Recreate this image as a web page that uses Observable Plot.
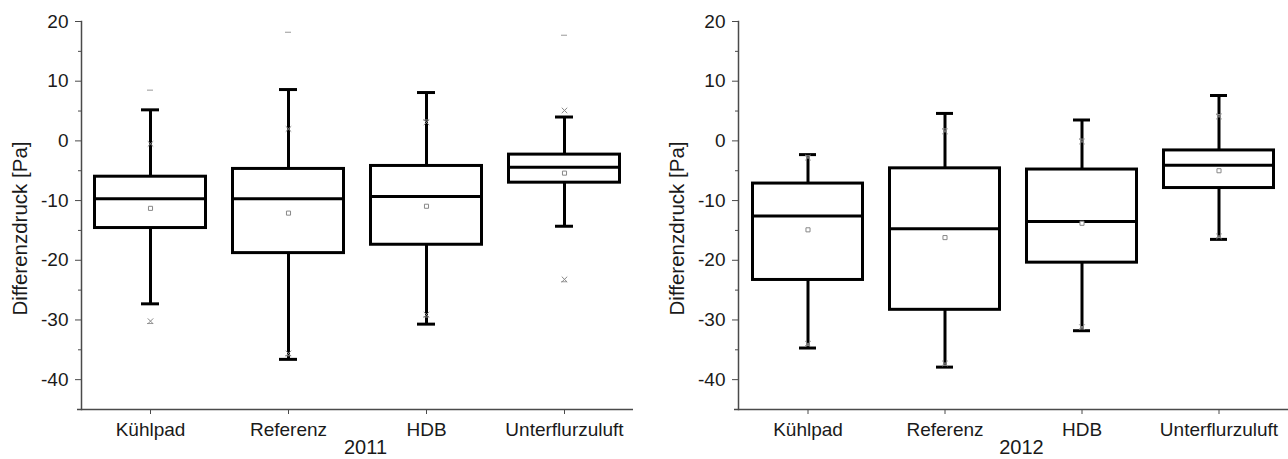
<!DOCTYPE html>
<html><head><meta charset="utf-8">
<script src="https://cdn.jsdelivr.net/npm/d3@7"></script>
<script src="https://cdn.jsdelivr.net/npm/@observablehq/plot@0.6"></script>
<style>
body{margin:0;background:#fff;}
#wrap{display:flex;width:1288px;height:459px;overflow:hidden;}
#wrap svg{display:block;}
</style></head><body><div id="wrap"></div>
<script>
const categories = ["Kühlpad", "Referenz", "HDB", "Unterflurzuluft"];
const yearLabels = ["2011", "2012"];
const majorTicks = [-40, -30, -20, -10, 0, 10, 20];
const minorTicks = [-35, -25, -15, -5, 5, 15];

// 2011
const q1_2011   = [-14.6, -18.8, -17.4, -7.0];
const med_2011  = [-9.7, -9.7, -9.3, -4.4];
const q3_2011   = [-6.0, -4.7, -4.2, -2.3];
const whLo_2011 = [-27.3, -36.6, -30.7, -14.3];
const whHi_2011 = [5.2, 8.6, 8.1, 4.0];
const mean_2011 = [-11.3, -12.1, -10.95, -5.4];
const p1_2011   = [-30.2, -35.6, -29.1, -23.2];
const p99_2011  = [-0.5, 2.0, 3.1, 5.1];
const min_2011  = [-30.6, -36.0, -29.5, -23.6];
const max_2011  = [8.5, 18.2, 3.5, 17.7];

// 2012
const q1_2012   = [-23.3, -28.3, -20.4, -7.9];
const med_2012  = [-12.6, -14.7, -13.5, -4.1];
const q3_2012   = [-7.15, -4.6, -4.8, -1.6];
const whLo_2012 = [-34.7, -37.9, -31.8, -16.5];
const whHi_2012 = [-2.3, 4.6, 3.5, 7.6];
const mean_2012 = [-14.9, -16.2, -13.8, -5.0];
const p1_2012   = [-34.0, -37.3, -31.2, -16.0];
const p99_2012  = [-2.8, 1.6, -0.1, 4.1];
const min_2012  = [-34.3, -37.6, -31.5, -16.2];
const max_2012  = [-2.5, 2.0, 0.3, 4.4];

function rowsFor(q1, med, q3, whLo, whHi, mean, p1, p99, mn, mx) {
  return categories.map((c, i) => ({cat: c, q1: q1[i], med: med[i], q3: q3[i], whLo: whLo[i], whHi: whHi[i],
    mean: mean[i], p1: p1[i], p99: p99[i], min: mn[i], max: mx[i]}));
}

const datasets = [
  rowsFor(q1_2011, med_2011, q3_2011, whLo_2011, whHi_2011, mean_2011, p1_2011, p99_2011, min_2011, max_2011),
  rowsFor(q1_2012, med_2012, q3_2012, whLo_2012, whHi_2012, mean_2012, p1_2012, p99_2012, min_2012, max_2012)
];

const FONT = "'Liberation Sans', Arial, sans-serif";
const AX = "#4a4a4a";

function chart(rows, year, marginLeft, marginRight) {
  return Plot.plot({
    width: 644, height: 459,
    marginLeft, marginRight, marginTop: 21, marginBottom: 50,
    style: {fontFamily: FONT, fontSize: "19px", color: "#1a1a1a", background: "white", overflow: "visible"},
    x: {type: "band", domain: categories, padding: 0},
    y: {domain: [-45, 20]},
    marks: [
      Plot.frame({anchor: "left", stroke: AX, strokeWidth: 1.5}),
      Plot.ruleY([-45], {stroke: AX, strokeWidth: 1.5, insetLeft: -4}),
      Plot.axisY({ticks: majorTicks, tickSize: 6, tickPadding: 7, fontSize: 19, label: null, stroke: AX, tickFormat: d => String(d)}),
      Plot.axisY({ticks: minorTicks, tickSize: 3, tickFormat: () => "", label: null, stroke: AX}),
      Plot.axisX({tickSize: 5, tickPadding: 8, fontSize: 19, label: null, stroke: AX}),
      Plot.text(["Differenzdruck [Pa]"], {frameAnchor: "left", textAnchor: "middle", rotate: -90, dx: -61, dy: 13, fontSize: 20.5, fill: "#1a1a1a"}),
      Plot.text([year], {frameAnchor: "bottom", dy: 44, dx: 8, fontSize: 20, fill: "#1a1a1a"}),
      Plot.ruleX(rows, {x: "cat", y1: "whLo", y2: "q1", stroke: "black", strokeWidth: 3}),
      Plot.ruleX(rows, {x: "cat", y1: "q3", y2: "whHi", stroke: "black", strokeWidth: 3}),
      Plot.tickY(rows, {x: "cat", y: "whLo", stroke: "black", strokeWidth: 3, insetLeft: 60, insetRight: 60}),
      Plot.tickY(rows, {x: "cat", y: "whHi", stroke: "black", strokeWidth: 3, insetLeft: 60, insetRight: 60}),
      Plot.barY(rows, {x: "cat", y1: "q1", y2: "q3", fill: "white", stroke: "black", strokeWidth: 3, insetLeft: 13.5, insetRight: 13.5}),
      Plot.tickY(rows, {x: "cat", y: "med", stroke: "black", strokeWidth: 3, insetLeft: 13.5, insetRight: 13.5}),
      Plot.tickY(rows, {x: "cat", y: "min", stroke: "#999", strokeWidth: 1, insetLeft: 66, insetRight: 66}),
      Plot.tickY(rows, {x: "cat", y: "max", stroke: "#999", strokeWidth: 1, insetLeft: 66, insetRight: 66}),
      Plot.dot(rows, {x: "cat", y: "p1", symbol: "times", r: 2.6, stroke: "#888", strokeWidth: 1}),
      Plot.dot(rows, {x: "cat", y: "p99", symbol: "times", r: 2.6, stroke: "#888", strokeWidth: 1}),
      Plot.dot(rows, {x: "cat", y: "mean", symbol: "square", r: 2.3, stroke: "#888", fill: "white", strokeWidth: 1})
    ]
  });
}

const wrap = document.getElementById("wrap");
wrap.append(chart(datasets[0], yearLabels[0], 81, 11));
wrap.append(chart(datasets[1], yearLabels[1], 94, 0));
</script></body></html>
